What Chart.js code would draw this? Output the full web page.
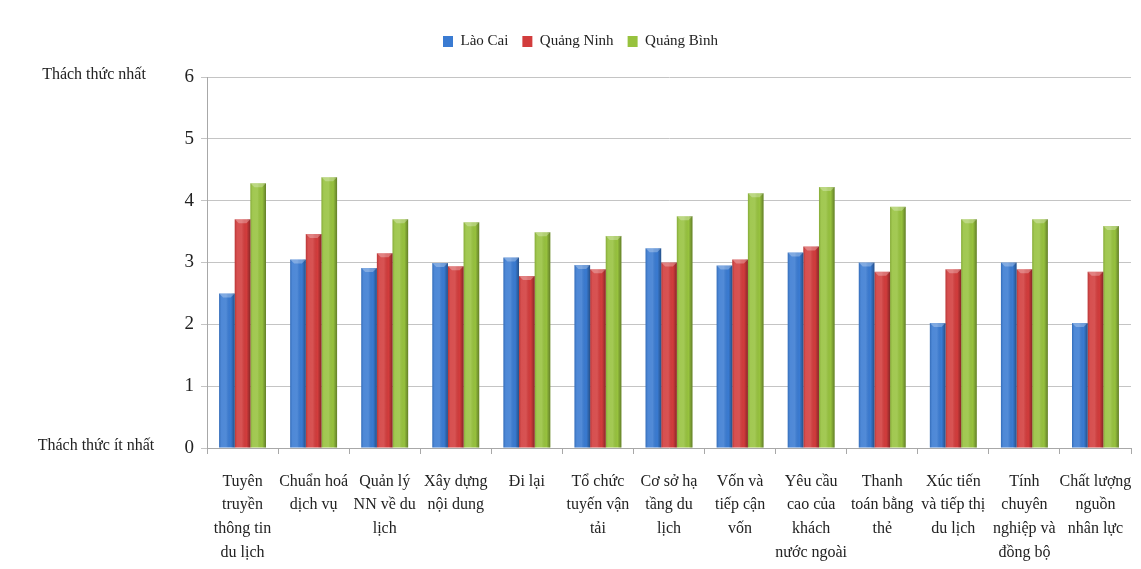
<!DOCTYPE html>
<html>
<head>
<meta charset="utf-8">
<title>Thách thức du lịch</title>
<script src="https://cdn.jsdelivr.net/npm/chart.js@4/dist/chart.umd.min.js"></script>
<style>
  html, body { margin: 0; padding: 0; background: #fff; }
  #wrap { width: 1141px; height: 569px; position: relative; }
</style>
</head>
<body>
<div id="wrap"><canvas id="chart"></canvas></div>
<script>
// categories (multi-line labels under the x axis)
var categories = [
  ['Tuyên', 'truyền', 'thông tin', 'du lịch'],
  ['Chuẩn hoá', 'dịch vụ'],
  ['Quản lý', 'NN về du', 'lịch'],
  ['Xây dựng', 'nội dung'],
  ['Đi lại'],
  ['Tổ chức', 'tuyến vận', 'tải'],
  ['Cơ sở hạ', 'tầng du', 'lịch'],
  ['Vốn và', 'tiếp cận', 'vốn'],
  ['Yêu cầu', 'cao của', 'khách', 'nước ngoài'],
  ['Thanh', 'toán bằng', 'thẻ'],
  ['Xúc tiến', 'và tiếp thị', 'du lịch'],
  ['Tính', 'chuyên', 'nghiệp và', 'đồng bộ'],
  ['Chất lượng', 'nguồn', 'nhân lực']
];

var seriesNames = ['Lào Cai', 'Quảng Ninh', 'Quảng Bình'];

var laoCai    = [2.50, 3.05, 2.91, 2.99, 3.08, 2.96, 3.23, 2.95, 3.16, 3.00, 2.02, 3.00, 2.02];
var quangNinh = [3.70, 3.46, 3.15, 2.94, 2.78, 2.89, 3.00, 3.05, 3.26, 2.85, 2.89, 2.89, 2.85];
var quangBinh = [4.28, 4.38, 3.70, 3.65, 3.49, 3.43, 3.75, 4.12, 4.22, 3.90, 3.70, 3.70, 3.59];

var yMin = 0, yMax = 6, yStep = 1;
var topLabel = 'Thách thức nhất';
var bottomLabel = 'Thách thức ít nhất';

var FONT = '"Liberation Serif", "Times New Roman", serif';
var colors = ['#3a7bd2', '#d23c3c', '#97c23e'];

// text at the ends of the value axis
var sideLabels = {
  id: 'sideLabels',
  afterDraw: function (chart) {
    var ctx = chart.ctx, y = chart.scales.y;
    ctx.save();
    ctx.font = '16px ' + FONT;
    ctx.fillStyle = '#222';
    ctx.textAlign = 'center';
    ctx.textBaseline = 'middle';
    ctx.fillText(topLabel, 94, y.getPixelForValue(yMax) - 2);
    ctx.fillText(bottomLabel, 96, y.getPixelForValue(yMin) - 2);
    ctx.restore();
  }
};

// bevel shading over each bar
var barShade = {
  id: 'barShade',
  afterDatasetsDraw: function (chart) {
    var ctx = chart.ctx;
    ctx.save();
    chart.data.datasets.forEach(function (ds, i) {
      chart.getDatasetMeta(i).data.forEach(function (bar) {
        var p = bar.getProps(['x', 'y', 'base', 'width'], true);
        var left = p.x - p.width / 2, w = p.width, h = p.base - p.y;
        var g = ctx.createLinearGradient(left, 0, left + w, 0);
        g.addColorStop(0, 'rgba(0,0,0,0.12)');
        g.addColorStop(0.15, 'rgba(255,255,255,0.10)');
        g.addColorStop(0.45, 'rgba(255,255,255,0.12)');
        g.addColorStop(0.75, 'rgba(0,0,0,0)');
        g.addColorStop(1, 'rgba(0,0,0,0.35)');
        ctx.fillStyle = g;
        ctx.fillRect(left, p.y, w, h);
        ctx.fillStyle = 'rgba(255,255,255,0.28)';
        ctx.beginPath();
        ctx.moveTo(left, p.y);
        ctx.lineTo(left + w, p.y);
        ctx.lineTo(left + w - 4, p.y + 4);
        ctx.lineTo(left + 4, p.y + 4);
        ctx.closePath();
        ctx.fill();
      });
    });
    ctx.restore();
  }
};

var datasets = [laoCai, quangNinh, quangBinh].map(function (vals, i) {
  return {
    label: seriesNames[i],
    data: vals,
    backgroundColor: colors[i],
    borderWidth: 0,
    barPercentage: 1,
    categoryPercentage: 0.66
  };
});

new Chart(document.getElementById('chart'), {
  type: 'bar',
  data: { labels: categories, datasets: datasets },
  options: {
    responsive: true,
    maintainAspectRatio: false,
    animation: false,
    layout: { padding: { top: 20, right: 10, bottom: 0, left: 30 } },
    plugins: {
      tooltip: { enabled: false },
      // empty title used as a gap between legend and plot
      title: {
        display: true,
        text: '',
        weight: 500,
        font: { size: 1, lineHeight: 1 },
        padding: { top: 17, bottom: 0 }
      },
      legend: {
        position: 'top',
        labels: {
          font: { family: FONT, size: 15 },
          color: '#222',
          boxWidth: 10,
          boxHeight: 11,
          padding: 14
        }
      }
    },
    scales: {
      x: {
        afterFit: function (scale) {
          scale.height = 121;
          scale.paddingLeft = 0;
          scale.paddingRight = 0;
        },
        grid: {
          offset: true,
          drawOnChartArea: false,
          drawTicks: true,
          tickLength: 6,
          color: '#a8a8a8'
        },
        border: { display: true, color: '#a8a8a8' },
        ticks: {
          font: { family: FONT, size: 16, lineHeight: 1.47 },
          color: '#222',
          maxRotation: 0,
          autoSkip: false,
          padding: 16
        }
      },
      y: {
        min: yMin,
        max: yMax,
        afterFit: function (scale) { scale.width = 177; },
        grid: { color: '#c4c4c4', tickLength: 6, drawTicks: true },
        border: { display: true, color: '#a8a8a8' },
        ticks: {
          stepSize: yStep,
          font: { family: FONT, size: 19 },
          color: '#222',
          padding: 7
        }
      }
    }
  },
  plugins: [sideLabels, barShade]
});
</script>
</body>
</html>
